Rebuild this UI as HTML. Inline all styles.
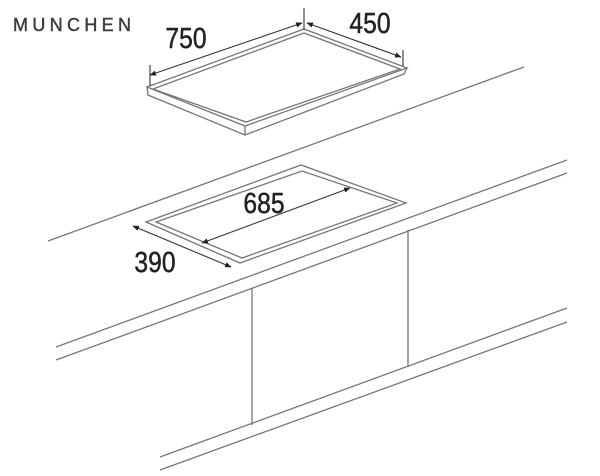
<!DOCTYPE html>
<html><head><meta charset="utf-8"><style>
html,body{margin:0;padding:0;background:#fff;width:600px;height:476px;overflow:hidden}
svg{display:block}
text{font-family:"Liberation Sans",sans-serif;fill:#222}
</style></head><body>
<svg width="600" height="476" viewBox="0 0 600 476">
<defs><marker id="ar" viewBox="0 0 10 10" refX="9" refY="5" markerWidth="6" markerHeight="6" orient="auto-start-reverse"><path d="M0,1 L10,5 L0,9 z" fill="#222"/></marker></defs>
<text x="13" y="31" font-size="18" textLength="118" lengthAdjust="spacing" style="fill:#3a3a3a;stroke:#3a3a3a;stroke-width:0.4">MUNCHEN</text>
<g stroke="#777" stroke-width="1.3" fill="none">
<line x1="48" y1="241" x2="524" y2="67"/>
<polygon points="147,87 304,29 407,68 245,126" fill="#fff"/>
<polygon points="153,89 304,33 400,69 246,122"/>
<polyline points="147,87 148,95 245,135 404,74 407,68"/>
<line x1="245" y1="126" x2="245" y2="135"/>
<polygon points="146,222 301,165 406,203 240,263"/>
<polygon points="156,222 302,171 397,203 242,258"/>
<line x1="56" y1="347" x2="567" y2="160"/>
<line x1="56" y1="360" x2="567" y2="173"/>
<line x1="252" y1="288" x2="252" y2="425"/>
<line x1="408" y1="230" x2="408" y2="367"/>
<line x1="160" y1="457" x2="567" y2="308"/>
<line x1="160" y1="470" x2="567" y2="322"/>
</g>
<g stroke="#333" stroke-width="1.1" fill="none">
<line x1="150" y1="65" x2="150" y2="86"/>
<line x1="304" y1="8" x2="304" y2="30"/>
<line x1="403" y1="50" x2="403" y2="66"/>
<line x1="150" y1="75" x2="302" y2="23" marker-start="url(#ar)" marker-end="url(#ar)"/>
<line x1="307" y1="23" x2="401" y2="57" marker-start="url(#ar)" marker-end="url(#ar)"/>
<line x1="202" y1="243" x2="350" y2="188" marker-start="url(#ar)" marker-end="url(#ar)"/>
<line x1="133" y1="226" x2="231" y2="267" marker-start="url(#ar)" marker-end="url(#ar)"/>
</g>
<g stroke="#222" stroke-width="0.5">
<text x="186" y="48" font-size="29" text-anchor="middle" transform="translate(186 0) scale(0.85 1) translate(-186 0)">750</text>
<text x="370" y="33" font-size="29" text-anchor="middle" transform="translate(370 0) scale(0.85 1) translate(-370 0)">450</text>
<text x="264" y="213" font-size="29" text-anchor="middle" transform="translate(264 0) scale(0.85 1) translate(-264 0)">685</text>
<text x="155" y="272" font-size="29" text-anchor="middle" transform="translate(155 0) scale(0.85 1) translate(-155 0)">390</text>
</g>
</svg>
</body></html>
